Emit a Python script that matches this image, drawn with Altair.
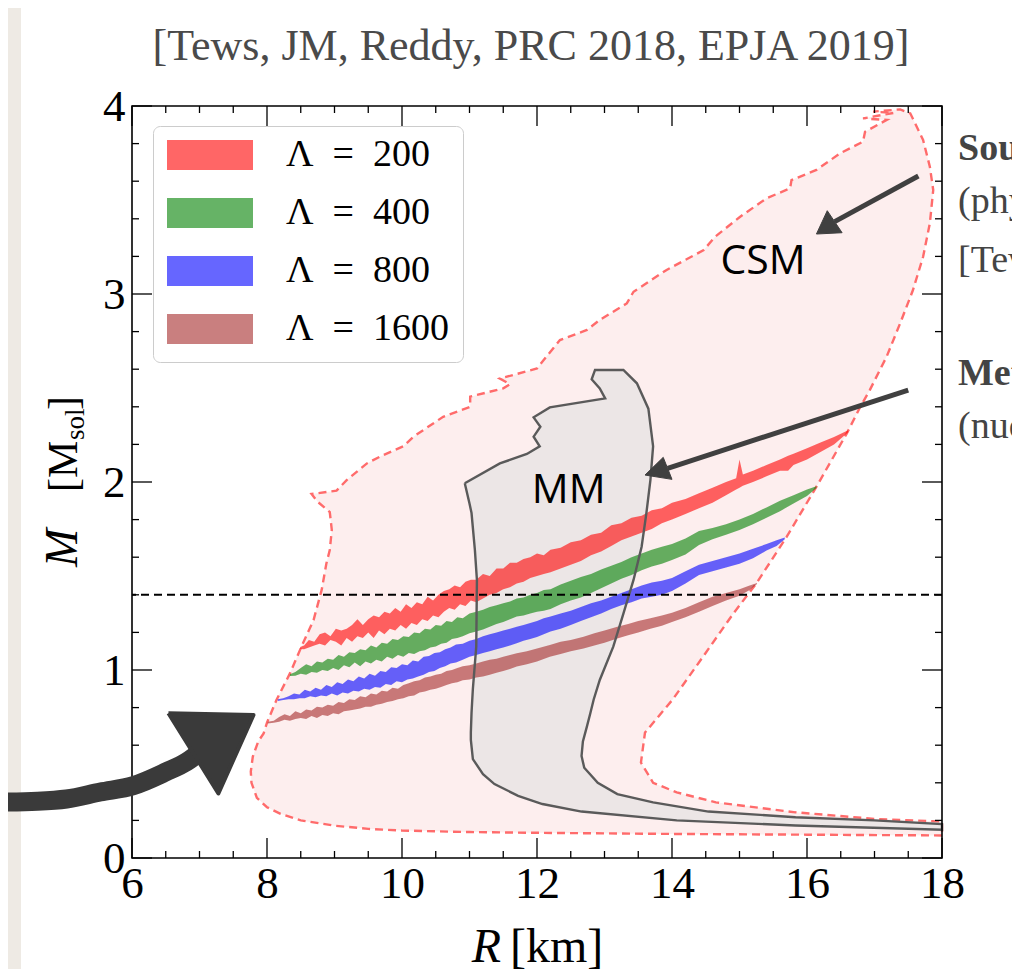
import altair as alt
import pandas as pd

# ---------------- data ----------------
csm_boundary = [
    (18.0, 0.12), (16.0, 0.124), (14.0, 0.128), (12.0, 0.134), (11.0, 0.138), (10.0, 0.146),
    (9.5, 0.155), (9.0, 0.172), (8.5, 0.2), (8.2, 0.235), (8.0, 0.27), (7.85, 0.32),
    (7.77, 0.4), (7.76, 0.46), (7.79, 0.54), (7.87, 0.62), (7.95, 0.663), (8.0, 0.72),
    (8.14, 0.84), (8.34, 0.982), (8.51, 1.124), (8.69, 1.266), (8.81, 1.426), (8.88, 1.567),
    (8.93, 1.638), (8.96, 1.745), (8.93, 1.84), (8.75, 1.895), (8.66, 1.936), (9.03, 1.954),
    (9.18, 2.01), (9.48, 2.099), (9.67, 2.134), (10.02, 2.19), (10.17, 2.241), (10.61, 2.347),
    (11.01, 2.40), (11.01, 2.454), (11.5, 2.498), (11.6, 2.52), (11.45, 2.55), (12.0, 2.604),
    (12.14, 2.667), (12.34, 2.755), (12.74, 2.809), (12.93, 2.862), (13.33, 2.95), (13.43, 3.012),
    (13.92, 3.128), (14.47, 3.234), (14.64, 3.305), (15.01, 3.411), (15.4, 3.509), (15.75, 3.562),
    (15.77, 3.606), (16.14, 3.66), (16.49, 3.748), (16.83, 3.81), (16.86, 3.863), (17.18, 3.926),
    (16.83, 3.934), (17.28, 3.963), (16.98, 3.97), (17.38, 3.982), (17.53, 3.961), (17.72, 3.819),
    (17.82, 3.677), (17.87, 3.553), (17.82, 3.376), (17.72, 3.198), (17.57, 3.021), (17.38, 2.844),
    (17.18, 2.667), (16.93, 2.489), (16.79, 2.40), (16.59, 2.259), (16.14, 1.975), (15.7, 1.709),
    (15.25, 1.461), (14.91, 1.301), (14.46, 1.071), (14.01, 0.843), (13.6, 0.667), (13.54, 0.508),
    (13.72, 0.40), (14.07, 0.349), (14.65, 0.296), (15.83, 0.243), (17.0, 0.208), (18.0, 0.194),
    (18.0, 0.12),
]

mm_boundary = [
    (10.93, 1.993), (11.0, 1.886), (11.03, 1.835), (11.08, 1.638), (11.11, 1.479), (11.1, 1.124),
    (11.05, 0.9), (11.03, 0.771), (11.02, 0.667), (11.02, 0.628), (11.05, 0.526), (11.2, 0.446),
    (11.37, 0.393), (11.72, 0.331), (12.08, 0.287), (12.66, 0.247), (14.07, 0.2), (15.83, 0.173),
    (18.0, 0.15), (18.0, 0.18), (17.0, 0.2), (15.83, 0.217), (14.54, 0.247), (13.72, 0.296),
    (13.19, 0.34), (12.9, 0.40), (12.7, 0.48), (12.66, 0.543), (12.68, 0.62), (12.74, 0.7),
    (12.79, 0.77), (12.84, 0.843), (12.93, 0.947), (13.13, 1.124), (13.28, 1.30), (13.43, 1.479),
    (13.55, 1.656), (13.62, 1.833), (13.68, 2.01), (13.72, 2.19), (13.65, 2.39), (13.48, 2.525),
    (13.28, 2.596), (12.86, 2.596), (12.81, 2.546), (12.93, 2.498), (13.01, 2.445), (12.19, 2.397),
    (11.95, 2.344), (12.05, 2.294), (11.95, 2.241), (12.04, 2.19), (11.85, 2.149), (11.45, 2.099),
    (10.93, 1.993),
]

band_labels = ["Λ\u2002=\u2002200", "Λ\u2002=\u2002400", "Λ\u2002=\u2002800", "Λ\u2002=\u20021600"]
band_colors = ["#ff0000", "#008000", "#0000ff", "#a52a2a"]

red_band = [
    (8.49, 1.112, 1.122), (8.55, 1.11, 1.13), (8.62, 1.12, 1.16), (8.70, 1.13, 1.15), (8.78, 1.14, 1.19),
    (8.86, 1.13, 1.20), (8.94, 1.16, 1.18), (9.02, 1.15, 1.22), (9.10, 1.13, 1.21), (9.18, 1.17, 1.22),
    (9.26, 1.15, 1.24), (9.34, 1.18, 1.27), (9.42, 1.17, 1.24), (9.50, 1.20, 1.27), (9.58, 1.17, 1.29),
    (9.66, 1.21, 1.28), (9.74, 1.19, 1.31), (9.82, 1.22, 1.30), (9.90, 1.21, 1.33), (9.98, 1.24, 1.31),
    (10.06, 1.22, 1.35), (10.14, 1.25, 1.33), (10.22, 1.24, 1.36), (10.30, 1.27, 1.35), (10.38, 1.26, 1.39),
    (10.46, 1.29, 1.37), (10.54, 1.28, 1.40), (10.62, 1.31, 1.42), (10.70, 1.33, 1.43), (10.78, 1.32, 1.45),
    (10.86, 1.35, 1.44), (10.94, 1.34, 1.47), (11.02, 1.37, 1.48), (11.10, 1.36, 1.48), (11.20, 1.38, 1.51),
    (11.30, 1.40, 1.50), (11.40, 1.41, 1.54), (11.50, 1.43, 1.54), (11.60, 1.44, 1.57), (11.70, 1.46, 1.57),
    (11.80, 1.47, 1.59), (11.90, 1.49, 1.60), (12.00, 1.50, 1.62), (12.10, 1.51, 1.61), (12.20, 1.52, 1.64),
    (12.35, 1.54, 1.65), (12.50, 1.56, 1.68), (12.65, 1.58, 1.69), (12.80, 1.61, 1.72), (12.95, 1.63, 1.73),
    (13.10, 1.66, 1.77), (13.25, 1.69, 1.78), (13.40, 1.71, 1.81), (13.55, 1.73, 1.82), (13.70, 1.75, 1.85),
    (13.85, 1.78, 1.86), (14.00, 1.80, 1.89), (14.20, 1.83, 1.91), (14.40, 1.86, 1.94), (14.60, 1.89, 1.97),
    (14.80, 1.93, 2.00), (14.95, 1.96, 2.02), (15.00, 1.97, 2.12), (15.05, 1.98, 2.04), (15.20, 2.00, 2.06),
    (15.40, 2.03, 2.09), (15.60, 2.06, 2.12), (15.72, 2.06, 2.14), (15.80, 2.09, 2.15), (16.00, 2.12, 2.18),
    (16.20, 2.16, 2.21), (16.40, 2.20, 2.24), (16.61, 2.265, 2.275),
]

green_band = [
    (8.34, 0.968, 0.978), (8.42, 0.97, 0.99), (8.50, 0.98, 1.01), (8.58, 0.975, 1.03), (8.66, 0.99, 1.02),
    (8.74, 0.985, 1.045), (8.82, 1.00, 1.04), (8.90, 0.995, 1.06), (8.98, 1.01, 1.055), (9.06, 1.00, 1.08),
    (9.14, 1.025, 1.07), (9.22, 1.015, 1.095), (9.30, 1.04, 1.09), (9.38, 1.02, 1.11), (9.46, 1.045, 1.105),
    (9.54, 1.035, 1.13), (9.62, 1.055, 1.12), (9.70, 1.045, 1.145), (9.78, 1.07, 1.14), (9.86, 1.06, 1.165),
    (9.94, 1.08, 1.16), (10.02, 1.07, 1.18), (10.10, 1.09, 1.175), (10.18, 1.085, 1.20), (10.26, 1.10, 1.195),
    (10.34, 1.105, 1.22), (10.42, 1.12, 1.215), (10.50, 1.125, 1.24), (10.58, 1.14, 1.235), (10.66, 1.145, 1.26),
    (10.74, 1.165, 1.255), (10.82, 1.17, 1.28), (10.90, 1.18, 1.275), (11.00, 1.195, 1.30), (11.10, 1.205, 1.31),
    (11.20, 1.215, 1.32), (11.30, 1.23, 1.335), (11.40, 1.245, 1.345), (11.50, 1.255, 1.355), (11.60, 1.27, 1.365),
    (11.70, 1.285, 1.38), (11.80, 1.29, 1.385), (11.90, 1.30, 1.40), (12.00, 1.31, 1.41), (12.10, 1.315, 1.425),
    (12.20, 1.325, 1.43), (12.35, 1.35, 1.455), (12.50, 1.37, 1.475), (12.65, 1.385, 1.495), (12.80, 1.41, 1.51),
    (12.95, 1.435, 1.535), (13.10, 1.46, 1.555), (13.25, 1.485, 1.575), (13.40, 1.505, 1.60), (13.55, 1.53, 1.62),
    (13.70, 1.55, 1.64), (13.85, 1.565, 1.655), (14.00, 1.585, 1.67), (14.20, 1.615, 1.70), (14.40, 1.665, 1.74),
    (14.60, 1.695, 1.755), (14.80, 1.72, 1.775), (15.00, 1.745, 1.80), (15.20, 1.775, 1.83), (15.40, 1.81, 1.865),
    (15.60, 1.845, 1.90), (15.80, 1.885, 1.93), (16.00, 1.925, 1.96), (16.14, 1.968, 1.978),
]

blue_band = [
    (8.16, 0.835, 0.845), (8.24, 0.84, 0.85), (8.32, 0.845, 0.86), (8.40, 0.845, 0.875), (8.48, 0.85, 0.87),
    (8.56, 0.85, 0.895), (8.64, 0.86, 0.885), (8.72, 0.855, 0.905), (8.80, 0.865, 0.895), (8.88, 0.86, 0.92),
    (8.96, 0.875, 0.91), (9.04, 0.865, 0.935), (9.12, 0.88, 0.925), (9.20, 0.875, 0.95), (9.28, 0.89, 0.94),
    (9.36, 0.885, 0.965), (9.44, 0.90, 0.955), (9.52, 0.895, 0.98), (9.60, 0.91, 0.97), (9.68, 0.905, 0.995),
    (9.76, 0.925, 0.99), (9.84, 0.92, 1.015), (9.92, 0.94, 1.01), (10.00, 0.935, 1.03), (10.08, 0.95, 1.025),
    (10.16, 0.955, 1.05), (10.24, 0.965, 1.045), (10.32, 0.975, 1.07), (10.40, 0.99, 1.075), (10.48, 0.995, 1.09),
    (10.56, 1.01, 1.095), (10.64, 1.02, 1.11), (10.72, 1.035, 1.12), (10.80, 1.04, 1.135), (10.90, 1.055, 1.14),
    (11.00, 1.07, 1.155), (11.10, 1.08, 1.165), (11.20, 1.09, 1.18), (11.30, 1.10, 1.19), (11.40, 1.11, 1.20),
    (11.50, 1.12, 1.21), (11.60, 1.13, 1.22), (11.70, 1.142, 1.23), (11.80, 1.155, 1.24), (11.90, 1.165, 1.25),
    (12.00, 1.175, 1.26), (12.10, 1.19, 1.275), (12.20, 1.205, 1.285), (12.35, 1.22, 1.30), (12.50, 1.24, 1.315),
    (12.65, 1.26, 1.335), (12.80, 1.28, 1.355), (12.95, 1.30, 1.37), (13.10, 1.325, 1.39), (13.25, 1.345, 1.41),
    (13.40, 1.36, 1.43), (13.55, 1.38, 1.45), (13.70, 1.39, 1.465), (13.85, 1.40, 1.475), (14.00, 1.42, 1.49),
    (14.20, 1.46, 1.525), (14.40, 1.505, 1.56), (14.60, 1.525, 1.58), (14.80, 1.545, 1.60), (15.00, 1.565, 1.62),
    (15.20, 1.595, 1.645), (15.40, 1.635, 1.67), (15.55, 1.66, 1.69), (15.67, 1.695, 1.705),
]

brown_band = [
    (8.01, 0.715, 0.725), (8.10, 0.72, 0.73), (8.18, 0.725, 0.75), (8.26, 0.735, 0.765), (8.34, 0.73, 0.755),
    (8.42, 0.74, 0.78), (8.50, 0.745, 0.77), (8.58, 0.74, 0.79), (8.66, 0.755, 0.785), (8.74, 0.745, 0.805),
    (8.82, 0.76, 0.80), (8.90, 0.755, 0.815), (8.98, 0.77, 0.81), (9.06, 0.765, 0.83), (9.14, 0.78, 0.825),
    (9.22, 0.785, 0.845), (9.30, 0.79, 0.84), (9.38, 0.795, 0.86), (9.46, 0.805, 0.855), (9.54, 0.805, 0.875),
    (9.62, 0.815, 0.87), (9.70, 0.82, 0.89), (9.78, 0.83, 0.885), (9.86, 0.835, 0.905), (9.94, 0.845, 0.90),
    (10.02, 0.85, 0.92), (10.10, 0.86, 0.93), (10.18, 0.865, 0.94), (10.26, 0.88, 0.945), (10.34, 0.885, 0.96),
    (10.42, 0.895, 0.965), (10.50, 0.90, 0.975), (10.58, 0.91, 0.98), (10.66, 0.92, 0.995), (10.74, 0.93, 1.0),
    (10.82, 0.935, 1.01), (10.90, 0.945, 1.02), (11.00, 0.95, 1.025), (11.10, 0.96, 1.035), (11.20, 0.965, 1.045),
    (11.30, 0.975, 1.055), (11.40, 0.985, 1.06), (11.50, 0.995, 1.07), (11.60, 1.005, 1.08), (11.70, 1.018, 1.089),
    (11.85, 1.03, 1.10), (12.00, 1.045, 1.115), (12.19, 1.071, 1.133), (12.35, 1.085, 1.15), (12.50, 1.10, 1.16),
    (12.69, 1.115, 1.177), (12.85, 1.13, 1.195), (13.00, 1.145, 1.21), (13.19, 1.168, 1.23), (13.35, 1.185, 1.245),
    (13.50, 1.20, 1.26), (13.68, 1.22, 1.275), (13.85, 1.235, 1.29), (14.00, 1.255, 1.305), (14.20, 1.28, 1.33),
    (14.40, 1.31, 1.36), (14.60, 1.34, 1.39), (14.80, 1.37, 1.41), (15.00, 1.395, 1.43), (15.15, 1.425, 1.45),
    (15.26, 1.457, 1.463),
]

reference_mass = [1.4]

csm_arrow_shaft = [(17.65, 3.628), (16.41, 3.385)]
csm_arrow_head = [(16.14, 3.319), (16.30, 3.443), (16.52, 3.326), (16.14, 3.319)]
mm_arrow_shaft = [(17.50, 2.489), (13.935, 2.073)]
mm_arrow_head = [(13.6, 2.037), (13.87, 2.131), (14.0, 2.014), (13.6, 2.037)]
hand_arrow_shaft = [(3.9, 0.296), (4.6, 0.302), (5.03, 0.314), (5.53, 0.351), (6.02, 0.385),
                    (6.51, 0.459), (6.81, 0.512), (7.08, 0.585)]
hand_arrow_head = [(6.54, 0.770), (7.80, 0.761), (7.28, 0.344), (6.54, 0.770)]

region_labels = [("CSM", 15.35, 3.17), ("MM", 12.47, 1.952)]

x_major = [6, 8, 10, 12, 14, 16, 18]
x_minor = [6.5, 7, 7.5, 8.5, 9, 9.5, 10.5, 11, 11.5, 12.5, 13, 13.5, 14.5, 15, 15.5, 16.5, 17, 17.5]
y_major = [0, 1, 2, 3, 4]
y_minor = [0.2, 0.4, 0.6, 0.8, 1.2, 1.4, 1.6, 1.8, 2.2, 2.4, 2.6, 2.8, 3.2, 3.4, 3.6, 3.8]

title_text = "[Tews, JM, Reddy, PRC 2018, EPJA 2019]"
side_texts = ["Sound-speed model (CSM)", "(physics agnostic)", "[Tews, Carlson, Gandolfi, Reddy 2018]",
              "Meta-model (MM)", "(nuclear physics)"]

# ---------------- helpers ----------------
W, H = 810, 752
SERIF = "Liberation Serif"


def path_df(points):
    return pd.DataFrame({"R": [p[0] for p in points], "M": [p[1] for p in points],
                         "i": list(range(len(points)))})


xscale = alt.Scale(domain=[6, 18], nice=False, zero=False)
yscale = alt.Scale(domain=[0, 4], nice=False, zero=False)
xaxis = alt.Axis(values=x_major, ticks=False, domain=False, grid=False, labelFont=SERIF,
                 labelFontSize=45, labelColor="black", labelPadding=3, labelFlush=False,
                 title=None, zindex=2)
yaxis = alt.Axis(values=y_major, ticks=False, domain=False, grid=False, labelFont=SERIF,
                 labelFontSize=45, labelColor="black", labelPadding=7, labelFlush=False,
                 title=None, zindex=2)
X = alt.X("R:Q", scale=xscale, axis=xaxis)
Y = alt.Y("M:Q", scale=yscale, axis=yaxis)


def polygon(points, **mark):
    return alt.Chart(path_df(points)).mark_line(**mark).encode(x=X, y=Y, order="i:Q")


def ptext(txt, x, y, **mark):
    return alt.Chart(pd.DataFrame({"t": [txt]})).mark_text(**mark).encode(
        x=alt.value(x), y=alt.value(y), text="t:N")


# ---------------- layers ----------------
paper = alt.Chart(pd.DataFrame({"a": [0]})).mark_rect(color="white").encode(
    x=alt.value(-111), x2=alt.value(W + 70), y=alt.value(-98), y2=alt.value(H + 111))

csm = polygon(csm_boundary, fill="#fdeeee", stroke="#ff6b6b", strokeWidth=2.4,
              strokeDash=[8, 5], interpolate="linear")
mm_fill = polygon(mm_boundary, fill="#ece6e6", strokeWidth=0, interpolate="linear")

rows = []
for lab, band in zip(band_labels, [red_band, green_band, blue_band, brown_band]):
    for r, lo, hi in band:
        rows.append({"R": r, "lo": lo, "hi": hi, "lam": lab})
bands_df = pd.DataFrame(rows)

bands = alt.Chart(bands_df).mark_area(opacity=0.6, interpolate="linear").encode(
    x=X,
    y=alt.Y("lo:Q", scale=yscale, axis=yaxis, stack=False),
    y2="hi:Q",
    color=alt.Color(
        "lam:N",
        scale=alt.Scale(domain=band_labels, range=band_colors),
        sort=band_labels,
        legend=alt.Legend(
            title=None, orient="none", legendX=21, legendY=20,
            symbolType="M-1,-0.35H1V0.35H-1Z", symbolSize=7396, symbolStrokeWidth=0,
            clipHeight=30, labelFont=SERIF, labelFontSize=38, labelColor="black",
            labelOffset=33, padding=14, rowPadding=20, fillColor="white",
            strokeColor="#cccccc", cornerRadius=7, labelLimit=300,
        ),
    ),
)

mm_line = polygon(mm_boundary, stroke="#5a5a5a", strokeWidth=2.4, interpolate="linear")

ref_line = alt.Chart(pd.DataFrame({"M": reference_mass})).mark_rule(
    color="black", strokeWidth=2, strokeDash=[8, 5]).encode(y=Y)

frame = alt.Chart(pd.DataFrame({"a": [0]})).mark_rect(
    fillOpacity=0, stroke="black", strokeWidth=1.6).encode(
    x=alt.value(0), x2=alt.value(W), y=alt.value(0), y2=alt.value(H))

tick_style = dict(color="black", strokeWidth=1.3)
ticks = [
    alt.Chart(pd.DataFrame({"R": x_major})).mark_rule(**tick_style).encode(x=X, y=alt.value(H), y2=alt.value(H - 20)),
    alt.Chart(pd.DataFrame({"R": x_minor})).mark_rule(**tick_style).encode(x=X, y=alt.value(H), y2=alt.value(H - 7)),
    alt.Chart(pd.DataFrame({"R": x_major})).mark_rule(**tick_style).encode(x=X, y=alt.value(0), y2=alt.value(20)),
    alt.Chart(pd.DataFrame({"R": x_minor})).mark_rule(**tick_style).encode(x=X, y=alt.value(0), y2=alt.value(7)),
    alt.Chart(pd.DataFrame({"M": y_major})).mark_rule(**tick_style).encode(y=Y, x=alt.value(0), x2=alt.value(20)),
    alt.Chart(pd.DataFrame({"M": y_minor})).mark_rule(**tick_style).encode(y=Y, x=alt.value(0), x2=alt.value(7)),
    alt.Chart(pd.DataFrame({"M": y_major})).mark_rule(**tick_style).encode(y=Y, x=alt.value(W), x2=alt.value(W - 20)),
    alt.Chart(pd.DataFrame({"M": y_minor})).mark_rule(**tick_style).encode(y=Y, x=alt.value(W), x2=alt.value(W - 7)),
]

arrow_col = "#404040"
arrows = [
    alt.Chart(path_df(csm_arrow_shaft)).mark_line(color=arrow_col, strokeWidth=5).encode(x=X, y=Y, order="i:Q"),
    polygon(csm_arrow_head, fill=arrow_col, stroke=arrow_col, strokeWidth=1),
    alt.Chart(path_df(mm_arrow_shaft)).mark_line(color=arrow_col, strokeWidth=5).encode(x=X, y=Y, order="i:Q"),
    polygon(mm_arrow_head, fill=arrow_col, stroke=arrow_col, strokeWidth=1),
    alt.Chart(path_df(hand_arrow_shaft)).mark_line(color="#3a3a3a", strokeWidth=19, interpolate="monotone",
                                                   strokeCap="round").encode(x=X, y=Y, order="i:Q"),
    polygon(hand_arrow_head, fill="#3a3a3a", stroke="#3a3a3a", strokeWidth=4, strokeJoin="round"),
]

region_df = pd.DataFrame({"label": [r[0] for r in region_labels], "R": [r[1] for r in region_labels],
                          "M": [r[2] for r in region_labels]})
region_text = alt.Chart(region_df).mark_text(font="Open Sans", fontSize=41, color="black",
                                             baseline="middle", align="center").encode(x=X, y=Y, text="label:N")

texts = [
    ptext(title_text, 399, -46, font=SERIF, fontSize=44, color="#4a4a4a", align="center", baseline="alphabetic"),
    ptext(side_texts[0], 826, 54, font=SERIF, fontSize=38, fontWeight="bold", color="#444444", align="left", baseline="alphabetic"),
    ptext(side_texts[1], 826, 107, font=SERIF, fontSize=38, color="#444444", align="left", baseline="alphabetic"),
    ptext(side_texts[2], 826, 166, font=SERIF, fontSize=38, color="#444444", align="left", baseline="alphabetic"),
    ptext(side_texts[3], 826, 279, font=SERIF, fontSize=38, fontWeight="bold", color="#444444", align="left", baseline="alphabetic"),
    ptext(side_texts[4], 826, 332, font=SERIF, fontSize=38, color="#444444", align="left", baseline="alphabetic"),
    # x axis title
    ptext("R", 369, 856, font=SERIF, fontSize=48, fontStyle="italic", color="black", align="right", baseline="alphabetic"),
    ptext("[km]", 378, 856, font=SERIF, fontSize=48, color="black", align="left", baseline="alphabetic"),
    # y axis title (rotated)
    ptext("M", -55, 461, font=SERIF, fontSize=46, fontStyle="italic", color="black", angle=270, align="left", baseline="alphabetic"),
    ptext("[M", -55, 386, font=SERIF, fontSize=42, color="black", angle=270, align="left", baseline="alphabetic"),
    ptext("sol", -48, 334, font=SERIF, fontSize=27, color="black", angle=270, align="left", baseline="alphabetic"),
    ptext("]", -55, 304, font=SERIF, fontSize=42, color="black", angle=270, align="left", baseline="alphabetic"),
]

chart = alt.layer(
    paper, csm, mm_fill, bands, mm_line, ref_line, frame, *ticks, *arrows, region_text, *texts
).properties(
    width=W, height=H,
    autosize=alt.AutoSizeParams(type="none"),
    padding={"left": 124, "top": 98, "right": 70, "bottom": 111},
    background="#eeeae4",
).configure(
    font=SERIF
).configure_axis(
    labelFont=SERIF
).configure_legend(
    labelFont=SERIF
).configure_view(strokeWidth=0)

chart.save("out.html", embed_options={"renderer": "svg", "actions": False})
